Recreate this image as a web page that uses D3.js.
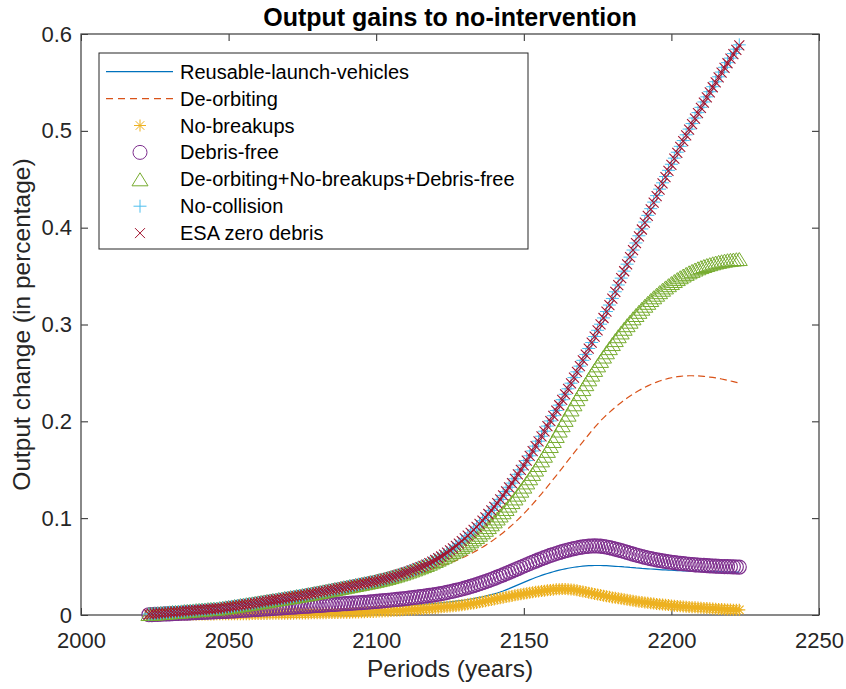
<!DOCTYPE html>
<html>
<head>
<meta charset="utf-8">
<script src="https://cdn.jsdelivr.net/npm/d3@7"></script>
<style>
  body { margin: 0; background: #fff; }
  text { font-family: "Liberation Sans", Arial, Helvetica, sans-serif; }
</style>
</head>
<body>
<svg id="chart" width="846" height="689"></svg>
<script>
// Yearly output gains relative to the no-intervention baseline, 2023-2223.
const firstYear = 2023;

const reusableLaunchVehicles = [
  0.0003,0.0004,0.0004,0.0005,0.0005,0.0006,0.0006,0.0007,0.0007,0.0008,0.0008,0.0009,0.0009,0.0010,0.0010,0.0011,0.0011,0.0012,
  0.0013,0.0013,0.0014,0.0014,0.0015,0.0016,0.0016,0.0017,0.0017,0.0018,0.0019,0.0019,0.0020,0.0021,0.0021,0.0022,0.0023,0.0023,0.0024,0.0025,
  0.0026,0.0027,0.0028,0.0029,0.0030,0.0031,0.0032,0.0033,0.0034,0.0035,0.0036,0.0037,0.0038,0.0039,0.0040,0.0041,0.0042,0.0043,0.0044,0.0045,
  0.0046,0.0048,0.0049,0.0051,0.0052,0.0054,0.0055,0.0057,0.0058,0.0060,0.0061,0.0063,0.0064,0.0066,0.0067,0.0069,0.0070,0.0072,0.0073,0.0075,
  0.0077,0.0079,0.0081,0.0083,0.0085,0.0087,0.0089,0.0091,0.0093,0.0095,0.0097,0.0100,0.0102,0.0105,0.0107,0.0110,0.0112,0.0115,0.0117,0.0120,
  0.0123,0.0126,0.0129,0.0132,0.0135,0.0139,0.0143,0.0147,0.0151,0.0155,0.0160,0.0165,0.0170,0.0176,0.0182,0.0188,0.0195,0.0202,0.0210,0.0218,0.0227,0.0237,
  0.0248,0.0260,0.0272,0.0285,0.0298,0.0311,0.0324,0.0337,0.0350,0.0363,0.0375,0.0387,0.0398,0.0409,0.0419,0.0429,0.0438,0.0447,
  0.0455,0.0463,0.0470,0.0477,0.0483,0.0488,0.0493,0.0497,0.0501,0.0504,0.0507,0.0509,
  0.0510,0.0511,0.0511,0.0511,0.0510,0.0509,0.0507,0.0505,0.0503,0.0501,0.0499,0.0496,0.0494,0.0491,0.0489,0.0486,0.0484,0.0481,
  0.0479,0.0477,0.0475,0.0473,0.0471,0.0469,0.0467,0.0465,0.0463,0.0462,0.0460,0.0459,0.0457,0.0456,0.0455,0.0454,0.0453,0.0452,0.0451,0.0450,
  0.0449,0.0448,0.0447,0.0446,0.0446,0.0445,0.0445,0.0444,0.0444,0.0443,0.0443,0.0442,0.0442
];

const deOrbiting = [
  0.0010,0.0012,0.0015,0.0017,0.0020,0.0022,0.0025,0.0027,0.0030,0.0032,0.0035,0.0037,0.0040,0.0042,0.0045,0.0047,0.0050,0.0052,0.0055,0.0057,0.0060,0.0062,0.0065,0.0067,0.0070,
  0.0074,0.0079,0.0083,0.0088,0.0092,0.0097,0.0102,0.0106,0.0111,0.0116,0.0120,0.0125,0.0130,0.0135,0.0140,0.0145,0.0150,0.0155,0.0160,0.0165,0.0170,0.0175,0.0180,0.0185,0.0190,0.0195,0.0200,0.0205,0.0211,0.0216,0.0222,0.0227,0.0233,0.0238,
  0.0244,0.0250,0.0256,0.0262,0.0268,0.0274,0.0280,0.0286,0.0292,0.0298,0.0304,0.0310,0.0316,0.0322,
  0.0328,0.0334,0.0340,0.0345,0.0351,0.0356,0.0361,0.0367,0.0372,0.0378,0.0383,0.0389,0.0394,0.0400,0.0405,
  0.0412,0.0419,0.0426,0.0434,0.0442,0.0450,0.0458,0.0467,0.0476,0.0485,
  0.0495,0.0505,0.0516,0.0527,0.0538,0.0550,0.0562,0.0575,0.0588,0.0602,
  0.0617,0.0632,0.0648,0.0665,0.0682,0.0700,0.0719,0.0739,0.0760,0.0781,
  0.0803,0.0826,0.0850,0.0875,0.0901,0.0928,0.0956,0.0985,0.1015,0.1046,
  0.1078,0.1111,0.1145,0.1180,0.1216,0.1252,0.1289,0.1326,0.1364,0.1402,
  0.1440,0.1479,0.1518,0.1557,0.1596,0.1635,0.1674,0.1713,0.1751,0.1789,
  0.1827,0.1864,0.1901,0.1937,0.1972,0.2006,0.2036,0.2065,0.2093,0.2120,
  0.2146,0.2171,0.2195,0.2218,0.2240,0.2261,0.2281,0.2300,0.2318,0.2335,
  0.2351,0.2366,0.2380,0.2393,0.2405,0.2416,0.2426,0.2435,0.2443,0.2450,
  0.2456,0.2461,0.2465,0.2468,0.2470,0.2471,0.2471,0.2470,0.2469,0.2467,
  0.2464,0.2461,0.2457,0.2453,0.2448,0.2443,0.2437,0.2431,0.2424,0.2417,
  0.2410,0.2403,0.2396
];

const noBreakups = [
  0.0001,0.0001,0.0001,0.0002,0.0002,0.0002,0.0002,0.0003,0.0003,0.0003,
  0.0003,0.0004,0.0004,0.0004,0.0004,0.0005,0.0005,0.0005,
  0.0005,0.0006,0.0006,0.0006,0.0006,0.0007,0.0007,0.0007,0.0007,0.0008,
  0.0008,0.0008,0.0008,0.0009,0.0009,0.0009,0.0009,0.0010,0.0010,0.0010,
  0.0011,0.0011,0.0011,0.0012,0.0012,0.0012,0.0013,0.0013,0.0013,0.0014,
  0.0014,0.0014,0.0015,0.0015,0.0016,0.0016,0.0016,0.0017,0.0017,0.0018,
  0.0018,0.0019,0.0019,0.0020,0.0020,0.0021,0.0021,0.0022,0.0022,0.0023,
  0.0024,0.0025,0.0026,0.0027,0.0028,0.0029,0.0030,0.0031,0.0032,0.0033,
  0.0035,0.0036,0.0038,0.0039,0.0041,0.0043,0.0045,0.0047,0.0049,0.0051,
  0.0053,0.0055,0.0057,0.0059,0.0061,0.0063,0.0066,0.0068,0.0071,0.0073,
  0.0076,0.0079,0.0082,0.0085,0.0088,0.0091,0.0094,0.0098,0.0101,0.0105,
  0.0110,0.0115,0.0120,0.0125,0.0131,0.0137,0.0143,0.0149,0.0155,0.0161,
  0.0167,0.0173,0.0179,0.0185,0.0191,0.0197,0.0203,0.0209,0.0214,0.0219,
  0.0224,0.0229,0.0234,0.0239,0.0243,0.0247,0.0251,0.0255,0.0259,0.0262,
  0.0265,0.0267,0.0268,0.0268,0.0267,0.0264,0.0260,0.0255,0.0249,0.0243,
  0.0237,0.0231,0.0225,0.0218,0.0212,0.0206,0.0200,0.0194,0.0188,0.0182,
  0.0177,0.0172,0.0167,0.0162,0.0157,0.0152,0.0147,0.0142,0.0138,0.0134,
  0.0130,0.0126,0.0122,0.0118,0.0114,0.0111,0.0108,0.0105,0.0102,0.0099,
  0.0096,0.0093,0.0091,0.0088,0.0086,0.0083,0.0081,0.0079,0.0077,0.0075,
  0.0073,0.0071,0.0069,0.0067,0.0065,0.0063,0.0061,0.0060,0.0058,0.0057,
  0.0055,0.0054,0.0053
];

const debrisFree = [
  0.0003,0.0004,0.0006,0.0007,0.0008,0.0010,0.0011,0.0012,0.0014,0.0015,0.0016,0.0018,0.0019,0.0020,
  0.0022,0.0023,0.0024,0.0026,0.0027,0.0028,0.0030,0.0031,0.0032,0.0034,0.0035,0.0036,0.0038,0.0039,
  0.0041,0.0043,0.0045,0.0047,0.0049,0.0050,0.0052,0.0054,0.0056,0.0058,
  0.0060,0.0062,0.0064,0.0066,0.0068,0.0070,0.0072,0.0074,0.0076,0.0078,
  0.0080,0.0082,0.0084,0.0086,0.0088,0.0090,0.0092,0.0094,0.0096,0.0098,
  0.0100,0.0102,0.0104,0.0106,0.0108,0.0110,0.0112,0.0114,0.0116,0.0118,
  0.0120,0.0122,0.0124,0.0126,0.0128,0.0130,0.0132,
  0.0135,0.0137,0.0140,
  0.0143,0.0146,0.0149,0.0152,0.0155,0.0158,0.0161,0.0164,0.0167,0.0170,
  0.0174,0.0178,0.0182,0.0186,0.0190,0.0194,0.0198,0.0202,0.0206,0.0210,
  0.0215,0.0221,0.0227,0.0233,0.0240,0.0247,0.0254,0.0261,0.0269,0.0277,
  0.0286,0.0295,0.0304,0.0314,0.0324,0.0334,0.0345,0.0356,0.0367,0.0379,
  0.0391,0.0403,0.0415,0.0428,0.0441,0.0454,0.0467,0.0480,0.0493,0.0506,
  0.0519,0.0532,0.0545,0.0557,0.0569,0.0581,0.0593,0.0604,0.0615,0.0625,
  0.0635,0.0645,0.0654,0.0663,0.0671,0.0679,0.0686,0.0692,0.0698,0.0703,
  0.0707,0.0711,
  0.0713,0.0714,0.0713,0.0711,0.0707,0.0702,0.0696,0.0689,
  0.0681,0.0673,0.0665,0.0656,0.0647,0.0638,0.0629,0.0620,0.0612,0.0604,
  0.0596,0.0589,0.0582,0.0576,0.0570,0.0564,0.0559,0.0554,0.0549,0.0545,
  0.0541,0.0537,0.0533,0.0530,0.0527,0.0524,0.0521,0.0518,0.0516,0.0514,
  0.0512,0.0510,0.0508,0.0506,0.0504,0.0503,0.0501,0.0500,0.0499,0.0498,
  0.0497,0.0496,0.0495
];

const combinedPolicy = [
  0.0010,0.0012,0.0015,0.0017,0.0020,0.0022,0.0025,0.0027,0.0030,0.0032,0.0035,0.0037,0.0040,0.0042,0.0045,0.0047,0.0050,0.0052,0.0055,0.0057,0.0060,0.0062,0.0065,0.0067,0.0070,
  0.0074,0.0079,0.0083,0.0088,0.0092,0.0097,0.0102,0.0106,0.0111,0.0116,0.0120,0.0125,0.0130,0.0135,0.0140,0.0145,0.0150,0.0155,0.0160,0.0165,0.0170,0.0175,0.0180,0.0185,0.0190,0.0195,0.0200,0.0205,0.0211,0.0216,0.0222,0.0227,0.0233,0.0238,
  0.0244,0.0250,0.0256,0.0262,0.0268,0.0274,0.0280,0.0286,0.0292,0.0298,0.0304,0.0310,0.0316,0.0322,0.0328,0.0334,0.0340,
  0.0346,0.0353,0.0360,0.0367,0.0375,0.0383,0.0391,0.0400,0.0409,0.0419,0.0428,0.0439,0.0449,0.0460,
  0.0471,0.0482,0.0493,0.0505,0.0517,0.0530,0.0544,0.0558,
  0.0572,0.0587,0.0602,0.0618,0.0634,0.0650,0.0667,0.0685,0.0703,0.0721,
  0.0740,0.0761,0.0782,0.0805,0.0829,0.0854,0.0880,0.0908,0.0937,0.0967,
  0.0997,0.1028,0.1061,0.1095,0.1130,0.1166,0.1204,0.1243,0.1284,0.1326,
  0.1369,0.1412,0.1457,0.1502,0.1549,0.1597,0.1645,0.1695,0.1745,0.1797,
  0.1849,0.1905,0.1960,0.2015,0.2069,0.2123,0.2176,0.2229,0.2281,0.2333,
  0.2384,0.2434,0.2483,0.2531,0.2578,0.2624,0.2669,0.2713,0.2756,0.2798,
  0.2839,0.2879,0.2918,0.2956,0.2993,0.3029,0.3064,0.3098,0.3131,0.3163,
  0.3194,0.3224,0.3253,0.3281,0.3308,0.3334,0.3359,0.3383,0.3406,0.3428,
  0.3449,0.3469,0.3488,0.3506,0.3523,0.3539,0.3554,0.3568,0.3581,0.3593,
  0.3604,0.3614,0.3623,0.3632,0.3640,0.3647,0.3653,0.3659,0.3664,0.3668,
  0.3671,0.3674,0.3676
];

const noCollision = [
  0.0010,0.0012,0.0015,0.0017,0.0020,0.0022,0.0025,0.0027,0.0030,0.0032,0.0035,0.0037,0.0040,0.0042,0.0045,0.0047,0.0050,0.0052,0.0055,0.0057,0.0060,0.0062,0.0065,0.0067,0.0070,
  0.0074,0.0079,0.0083,0.0088,0.0092,0.0097,0.0102,0.0106,0.0111,0.0116,0.0120,0.0125,0.0130,0.0135,0.0140,0.0145,0.0150,0.0155,0.0160,0.0165,0.0170,0.0175,0.0180,0.0185,0.0190,0.0195,0.0200,0.0205,0.0211,0.0216,0.0222,0.0227,0.0233,0.0238,
  0.0244,0.0250,0.0256,0.0262,0.0268,0.0274,0.0280,0.0286,0.0292,0.0298,0.0304,0.0310,0.0316,0.0322,0.0328,0.0334,0.0340,
  0.0346,0.0353,0.0360,0.0367,0.0375,0.0383,0.0391,0.0400,0.0409,0.0419,0.0428,0.0439,0.0449,0.0460,0.0471,0.0483,0.0495,
  0.0508,0.0521,0.0536,0.0551,0.0568,0.0586,0.0604,0.0624,0.0645,0.0667,
  0.0689,0.0713,0.0738,0.0764,0.0791,0.0819,0.0848,0.0878,0.0909,0.0941,
  0.0974,0.1008,0.1043,0.1080,0.1117,0.1155,0.1194,0.1235,0.1276,0.1319,
  0.1362,0.1407,0.1453,0.1499,0.1547,
  0.1595,0.1644,0.1694,0.1744,0.1795,0.1846,0.1898,0.1951,0.2004,0.2058,
  0.2112,0.2167,0.2223,0.2279,0.2336,0.2394,0.2452,0.2511,0.2570,0.2630,
  0.2691,0.2752,0.2814,0.2876,0.2940,0.3003,
  0.3068,0.3134,0.3201,0.3269,0.3338,0.3408,0.3479,0.3551,0.3623,0.3696,0.3769,0.3842,
  0.3916,0.3987,0.4058,0.4127,0.4196,0.4264,0.4331,0.4398,0.4463,0.4528,
  0.4592,0.4655,0.4718,0.4779,0.4840,0.4900,0.4959,0.5018,0.5075,0.5132,
  0.5188,0.5243,0.5298,0.5351,0.5404,0.5456,0.5507,0.5558,0.5607,0.5656,
  0.5704,0.5751,0.5798,0.5843,0.5888
];

const esaZeroDebris = [
  0.0010,0.0012,0.0015,0.0017,0.0020,0.0022,0.0025,0.0027,0.0030,0.0032,0.0035,0.0037,0.0040,0.0042,0.0045,0.0047,0.0050,0.0052,0.0055,0.0057,0.0060,0.0062,0.0065,0.0067,0.0070,
  0.0074,0.0079,0.0083,0.0088,0.0092,0.0097,0.0102,0.0106,0.0111,0.0116,0.0120,0.0125,0.0130,0.0135,0.0140,0.0145,0.0150,0.0155,0.0160,0.0165,0.0170,0.0175,0.0180,0.0185,0.0190,0.0195,0.0200,0.0205,0.0211,0.0216,0.0222,0.0227,0.0233,0.0238,
  0.0244,0.0250,0.0256,0.0262,0.0268,0.0274,0.0280,0.0286,0.0292,0.0298,0.0304,0.0310,0.0316,0.0322,0.0328,0.0334,0.0340,
  0.0346,0.0353,0.0360,0.0367,0.0375,0.0383,0.0391,0.0400,0.0409,0.0419,0.0428,0.0439,0.0449,0.0460,0.0471,0.0483,0.0495,
  0.0508,0.0521,0.0536,0.0551,0.0568,0.0586,0.0604,0.0624,0.0645,0.0667,
  0.0689,0.0713,0.0738,0.0764,0.0791,0.0819,0.0848,0.0878,0.0909,0.0941,
  0.0974,0.1008,0.1043,0.1080,0.1117,0.1155,0.1194,0.1235,0.1276,0.1319,
  0.1362,0.1406,0.1452,0.1498,0.1546,
  0.1594,0.1643,0.1693,0.1743,0.1794,0.1845,0.1897,0.1950,0.2003,0.2057,
  0.2111,0.2166,0.2222,0.2278,0.2335,0.2393,0.2451,0.2510,0.2569,0.2629,
  0.2690,0.2751,0.2813,0.2875,0.2939,0.3002,
  0.3067,0.3133,0.3200,0.3268,0.3337,0.3407,0.3478,0.3550,0.3622,0.3695,0.3768,0.3841,
  0.3910,0.3981,0.4052,0.4121,0.4190,0.4258,0.4325,0.4392,0.4457,0.4522,
  0.4586,0.4649,0.4712,0.4773,0.4834,0.4894,0.4953,0.5012,0.5069,0.5126,
  0.5182,0.5237,0.5292,0.5345,0.5398,0.5450,0.5501,0.5552,0.5601,0.5650,
  0.5698,0.5745,0.5792,0.5837,0.5882
];

const xTickValues = [2000, 2050, 2100, 2150, 2200, 2250];
const yTickValues = [0, 0.1, 0.2, 0.3, 0.4, 0.5, 0.6];

const seriesNames = [
  "Reusable-launch-vehicles", "De-orbiting", "No-breakups", "Debris-free",
  "De-orbiting+No-breakups+Debris-free", "No-collision", "ESA zero debris"
];
const seriesColors = ["#0072BD", "#D95319", "#EDB120", "#7E2F8E", "#77AC30", "#4DBEEE", "#A2142F"];

// ---------------------------------------------------------------- layout
const W = 846, H = 689;
const plot = { left: 81, right: 819, top: 34, bottom: 615 };
const axisInk = "#262626";

const svg = d3.select("#chart");
svg.append("rect").attr("width", W).attr("height", H).attr("fill", "#fff");

const x = d3.scaleLinear().domain([2000, 2250]).range([plot.left, plot.right]);
const y = d3.scaleLinear().domain([0, 0.6]).range([plot.bottom, plot.top]);

const toPoints = arr => arr.map((v, i) => ({ year: firstYear + i, v }));

// ---------------------------------------------------------------- axes (ticks point inward, box on)
function styleAxis(g) {
  g.select(".domain").remove();
  g.selectAll(".tick line").attr("stroke", axisInk).attr("stroke-width", 1);
  g.selectAll(".tick text").attr("fill", axisInk).attr("font-size", 22)
    .attr("font-family", '"Liberation Sans", Arial, Helvetica, sans-serif');
}

svg.append("g").attr("transform", `translate(0,${plot.bottom})`)
  .call(d3.axisBottom(x).tickValues(xTickValues).tickFormat(d3.format("d"))
    .tickSizeInner(-7).tickSizeOuter(0).tickPadding(17))
  .call(styleAxis);

svg.append("g").attr("transform", `translate(0,${plot.top})`)
  .call(d3.axisTop(x).tickValues(xTickValues).tickFormat("").tickSizeInner(-7).tickSizeOuter(0))
  .call(styleAxis);

svg.append("g").attr("transform", `translate(${plot.left},0)`)
  .call(d3.axisLeft(y).tickValues(yTickValues).tickFormat(d => d === 0 ? "0" : d3.format(".1f")(d))
    .tickSizeInner(-7).tickSizeOuter(0).tickPadding(9))
  .call(styleAxis);

svg.append("g").attr("transform", `translate(${plot.right},0)`)
  .call(d3.axisRight(y).tickValues(yTickValues).tickFormat("").tickSizeInner(-7).tickSizeOuter(0))
  .call(styleAxis);

svg.append("rect")
  .attr("x", plot.left).attr("y", plot.top)
  .attr("width", plot.right - plot.left).attr("height", plot.bottom - plot.top)
  .attr("fill", "none").attr("stroke", "#4a4a4a").attr("stroke-width", 1.3);

// ---------------------------------------------------------------- marker glyphs
const glyphs = {
  star: "M-6,0H6M0,-6V6M-4.3,-4.3L4.3,4.3M-4.3,4.3L4.3,-4.3",
  triangle: "M0,-6.5L8,6.5L-8,6.5Z",
  plus: "M-6.5,0H6.5M0,-6.5V6.5",
  cross: "M-5,-5L5,5M-5,5L5,-5"
};

const line = d3.line().x(d => x(d.year)).y(d => y(d.v));
const marks = svg.append("g");

function drawLine(arr, color, dash) {
  marks.append("path").datum(toPoints(arr))
    .attr("d", line).attr("fill", "none")
    .attr("stroke", color).attr("stroke-width", 1.2)
    .attr("stroke-dasharray", dash || null);
}

function drawMarkers(arr, color, kind, width) {
  const g = marks.append("g").attr("fill", "none").attr("stroke", color).attr("stroke-width", width || 1);
  const sel = g.selectAll("g").data(toPoints(arr)).join("g")
    .attr("transform", d => `translate(${x(d.year)},${y(d.v)})`);
  if (kind === "circle") sel.append("circle").attr("r", 7);
  else sel.append("path").attr("d", glyphs[kind]);
}

drawLine(reusableLaunchVehicles, seriesColors[0]);
drawLine(deOrbiting, seriesColors[1], "7,4");
drawMarkers(noBreakups, seriesColors[2], "star", 1.25);
drawMarkers(debrisFree, seriesColors[3], "circle", 1.15);
drawMarkers(combinedPolicy, seriesColors[4], "triangle", 1);
drawMarkers(noCollision, seriesColors[5], "plus", 1);
drawMarkers(esaZeroDebris, seriesColors[6], "cross", 1.1);

// ---------------------------------------------------------------- legend
const legend = svg.append("g");
legend.append("rect").attr("x", 99).attr("y", 53).attr("width", 429).attr("height", 196)
  .attr("fill", "#fff").attr("stroke", axisInk).attr("stroke-width", 1);

const legendKinds = ["line", "dash", "star", "circle", "triangle", "plus", "cross"];
seriesNames.forEach((name, i) => {
  const cy = 71.7 + i * 26.9;
  const row = legend.append("g").attr("transform", `translate(0,${cy})`);
  const kind = legendKinds[i];
  const c = seriesColors[i];
  if (kind === "line" || kind === "dash") {
    row.append("line").attr("x1", 106).attr("x2", 173).attr("y1", 0).attr("y2", 0)
      .attr("stroke", c).attr("stroke-width", 1.2)
      .attr("stroke-dasharray", kind === "dash" ? "7,5" : null);
  } else if (kind === "circle") {
    row.append("circle").attr("cx", 140).attr("r", 7).attr("fill", "none").attr("stroke", c);
  } else {
    row.append("path").attr("transform", "translate(140,0)").attr("d", glyphs[kind])
      .attr("fill", "none").attr("stroke", c).attr("stroke-width", 1);
  }
  row.append("text").attr("x", 180).attr("y", 0).attr("dy", "0.35em")
    .attr("font-size", 20).attr("fill", "#000").text(name);
});

// ---------------------------------------------------------------- titles
svg.append("text").attr("x", 450).attr("y", 26).attr("text-anchor", "middle")
  .attr("font-size", 25).attr("font-weight", "bold").attr("fill", "#000")
  .text("Output gains to no-intervention");

svg.append("text").attr("x", 450).attr("y", 677).attr("text-anchor", "middle")
  .attr("font-size", 24.5).attr("fill", axisInk).text("Periods (years)");

svg.append("text").attr("transform", `translate(30,${(plot.top + plot.bottom) / 2}) rotate(-90)`)
  .attr("text-anchor", "middle").attr("font-size", 24.5).attr("fill", axisInk)
  .text("Output change (in percentage)");
</script>
</body>
</html>
